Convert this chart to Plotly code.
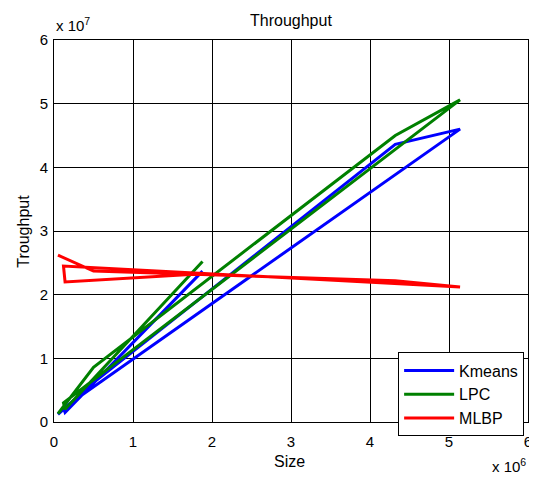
import plotly.graph_objects as go

# Size values (x 10^6), in drawing order
size_vals = [0.05, 0.50, 4.32, 5.14, 0.12, 0.14, 1.88]
# Throughput values (x 10^7)
kmeans = [0.12, 0.62, 4.36, 4.60, 0.22, 0.15, 2.37]
lpc = [0.13, 0.86, 4.50, 5.06, 0.30, 0.20, 2.52]
mlbp = [2.62, 2.37, 2.22, 2.12, 2.45, 2.20, 2.33]

series_names = ["Kmeans", "LPC", "MLBP"]
series_colors = ["#0000FF", "#008000", "#FF0000"]
tick_vals = [0, 1, 2, 3, 4, 5, 6]
tick_text = ["0", "1", "2", "3", "4", "5", "6"]

FONT = "Arial, 'Liberation Sans', Helvetica, sans-serif"

fig = go.Figure()
for name, ys, col in zip(series_names, [kmeans, lpc, mlbp], series_colors):
    fig.add_trace(go.Scatter(x=size_vals, y=ys, mode="lines", name=name,
                             line=dict(color=col, width=3)))

axis_common = dict(showline=True, linecolor="black", linewidth=1, mirror=True,
                   showgrid=True, gridcolor="black", gridwidth=1,
                   zeroline=False, ticks="", tickfont=dict(size=15, color="black", family=FONT),
                   tickvals=tick_vals, ticktext=tick_text, range=[0, 6], fixedrange=True,
                   automargin=False)

# page body has an 8px margin, so the figure is sized to fit inside the window
fig.update_layout(
    width=529, height=472,
    margin=dict(l=46, r=9, t=32, b=58),
    paper_bgcolor="white", plot_bgcolor="white",
    font=dict(family=FONT, size=16, color="black"),
    xaxis=dict(**axis_common, ticklabelstandoff=6),
    yaxis=dict(**axis_common, ticklabelstandoff=2),
    showlegend=True,
    legend=dict(x=0.726, y=0.182, xanchor="left", yanchor="top",
                bgcolor="white", bordercolor="black", borderwidth=1,
                font=dict(size=16, family=FONT, color="black"),
                itemwidth=50, tracegroupgap=0),
    annotations=[
        dict(text="Throughput", x=0.5, y=1.052, xref="paper", yref="paper",
             xanchor="center", yanchor="middle", showarrow=False,
             font=dict(size=16)),
        dict(text="Size", x=0.496, y=-0.103, xref="paper", yref="paper",
             xanchor="center", yanchor="middle", showarrow=False,
             font=dict(size=16)),
        dict(text="Troughput", x=-0.066, y=0.5, xref="paper", yref="paper",
             xanchor="center", yanchor="middle", showarrow=False, textangle=-90,
             font=dict(size=16)),
        dict(text="x 10<sup>7</sup>", x=0.0, y=1.04, xref="paper", yref="paper",
             xanchor="left", yanchor="middle", showarrow=False,
             font=dict(size=15)),
        dict(text="x 10<sup>6</sup>", x=1.0, y=-0.115, xref="paper", yref="paper",
             xanchor="right", yanchor="middle", showarrow=False,
             font=dict(size=15)),
    ],
)

fig.write_html("out.html")
